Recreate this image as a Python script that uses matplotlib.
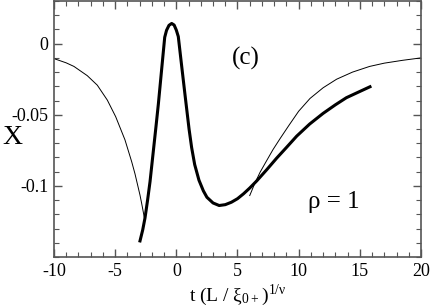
"""
scaling function X versus t (L / xi)^(1/nu), panel (c)
"""
import matplotlib
matplotlib.use("Agg")
import matplotlib.pyplot as plt
from matplotlib.ticker import MultipleLocator, FixedLocator

plt.rcParams["font.family"] = ["Liberation Serif", "DejaVu Serif"]
plt.rcParams["mathtext.fontset"] = "stix"
plt.rcParams["axes.unicode_minus"] = False

# thick curve (finite size data)
t_thick = [-2.97, -2.75, -2.56, -2.35, -2.15, -1.88, -1.66, -1.47, -1.2,
           -0.95, -0.8, -0.6, -0.38, -0.18, 0.0, 0.16, 0.44, 0.71, 1.04,
           1.25, 1.5, 1.85, 2.21, 2.5, 3.0, 3.5, 4.0, 4.5, 5.0, 5.5, 6.0,
           6.57, 7.4, 8.2, 9.0, 9.84, 10.9, 12.0, 13.0, 13.9, 14.9, 15.83]
x_thick = [-0.1387, -0.131, -0.1225, -0.110, -0.097, -0.0755, -0.058,
           -0.0425, -0.018, 0.0045, 0.0094, 0.0129, 0.0142, 0.0131, 0.0095,
           0.005, -0.016, -0.036, -0.060, -0.073, -0.085, -0.096, -0.1035,
           -0.108, -0.112, -0.1138, -0.1132, -0.1115, -0.109, -0.1055,
           -0.1015, -0.0965, -0.0885, -0.0805, -0.073, -0.065, -0.0565,
           -0.049, -0.043, -0.038, -0.034, -0.0303]

# thin curves (asymptotic forms)
t_thin_left = [-10.0, -9.0, -8.37, -7.28, -6.46, -5.64, -4.96, -4.2,
               -3.65, -3.38, -2.97, -2.83, -2.6]
x_thin_left = [-0.0105, -0.0135, -0.016, -0.0225, -0.0292, -0.0397,
               -0.0513, -0.0676, -0.083, -0.0915, -0.1065, -0.1125, -0.123]

t_thin_right = [6.0, 6.4, 6.84, 7.3, 7.9, 8.5, 9.2, 10.0, 10.93, 12.0,
                13.1, 14.4, 15.8, 17.0, 18.5, 20.0]
x_thin_right = [-0.1068, -0.0985, -0.0905, -0.0835, -0.0745, -0.0665,
                -0.0575, -0.0475, -0.0385, -0.031, -0.025, -0.020, -0.016,
                -0.0137, -0.0117, -0.010]

y_ticks = [0.0, -0.05, -0.1]
y_tick_labels = ["0", "-0.05", "-0.1"]


def main():
    fig = plt.figure(figsize=(4.32, 3.07), dpi=100)
    ax = fig.add_axes([54 / 432, 1 - 257 / 307, 367 / 432, 256 / 307])

    ax.plot(t_thin_left, x_thin_left, color="black", lw=0.7)
    ax.plot(t_thin_right, x_thin_right, color="black", lw=0.7)
    ax.plot(t_thick, x_thick, color="black", lw=2.2)

    ax.set_xlim(-10, 20)
    ax.set_ylim(-0.15, 0.03)

    ax.xaxis.set_major_locator(MultipleLocator(5))
    ax.xaxis.set_minor_locator(MultipleLocator(1))
    ax.yaxis.set_major_locator(FixedLocator(y_ticks))
    ax.set_yticklabels(y_tick_labels)
    ax.yaxis.set_minor_locator(MultipleLocator(0.01))

    for side in ax.spines.values():
        side.set_color("#555555")
        side.set_linewidth(1.2)
    ax.tick_params(which="both", direction="in", top=True, right=True,
                   color="#555555", labelsize=13, pad=4)
    ax.tick_params(which="major", length=6, width=1.0)
    ax.tick_params(which="minor", length=3.5, width=0.8)

    ax.set_xlabel(r"t (L / ξ$_{\mathregular{0+}}$)$^{\mathregular{1/\nu}}$",
                  fontsize=14, labelpad=2)
    fig.text(2 / 432, 1 - 137 / 307, "X", fontsize=20, va="center",
             ha="left")

    # panel tag and parameter
    fig.text(246 / 432, 1 - 58 / 307, "(c)", fontsize=18, ha="center",
             va="center")
    fig.text(334 / 432, 1 - 202 / 307, "ρ = 1", fontsize=18, ha="center",
             va="center")

    plt.savefig("out.png", dpi=100)


if __name__ == "__main__":
    main()
